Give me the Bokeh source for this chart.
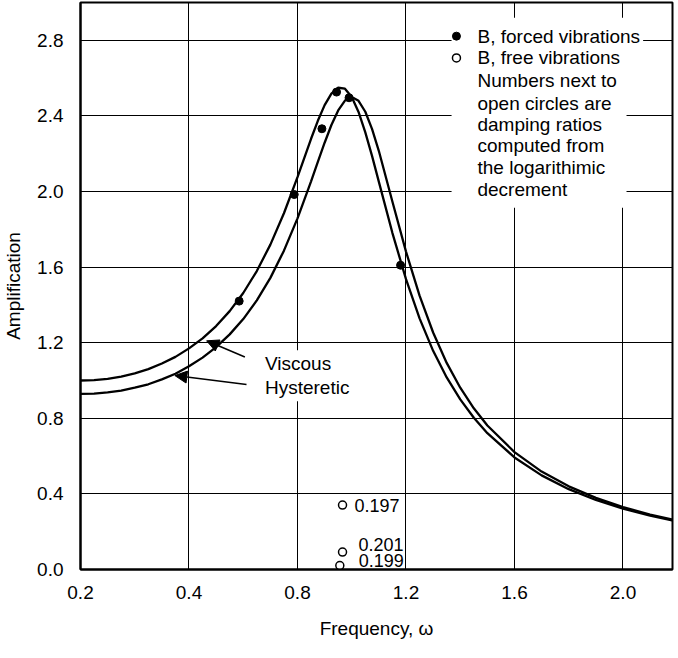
from bokeh.plotting import figure
from bokeh.models import FixedTicker, Label, Arrow, NormalHead, BoxAnnotation
from bokeh.embed import file_html
from bokeh.resources import INLINE

# ---------------- data ----------------
freq = [0.0, 0.05, 0.1, 0.15, 0.2, 0.25, 0.3, 0.35, 0.4, 0.45, 0.5, 0.55, 0.6, 0.65, 0.7,
        0.75, 0.8, 0.85, 0.875, 0.9, 0.925, 0.95, 0.975, 1.0, 1.025, 1.05, 1.075, 1.1,
        1.15, 1.2, 1.25, 1.3, 1.35, 1.4, 1.45, 1.5, 1.6, 1.7, 1.8, 1.9, 2.0, 2.1, 2.2]
viscous = [1.000, 1.002, 1.009, 1.021, 1.038, 1.060, 1.090, 1.125, 1.170, 1.223, 1.288,
           1.367, 1.463, 1.579, 1.719, 1.885, 2.076, 2.279, 2.374, 2.457, 2.518, 2.549,
           2.544, 2.500, 2.421, 2.313, 2.187, 2.051, 1.780, 1.536, 1.329, 1.157, 1.016,
           0.900, 0.803, 0.721, 0.593, 0.498, 0.425, 0.368, 0.322, 0.285, 0.254]
hysteretic = [0.929, 0.931, 0.937, 0.946, 0.962, 0.980, 1.006, 1.036, 1.075, 1.121, 1.177,
              1.244, 1.325, 1.424, 1.543, 1.687, 1.858, 2.054, 2.157, 2.258, 2.352, 2.429,
              2.481, 2.500, 2.480, 2.422, 2.330, 2.214, 1.946, 1.682, 1.449, 1.254, 1.093,
              0.962, 0.853, 0.762, 0.621, 0.518, 0.440, 0.379, 0.330, 0.291, 0.259]

forced_x = [0.585, 0.788, 0.890, 0.944, 0.990, 1.180]
forced_y = [1.420, 1.984, 2.332, 2.526, 2.496, 1.610]

free_x = [0.966, 0.966, 0.956]
free_y = [0.341, 0.092, 0.021]
free_ratio = ["0.197", "0.201", "0.199"]

x_ticks = [0.0, 0.4, 0.8, 1.2, 1.6, 2.0]
x_tick_labels = ["0.2", "0.4", "0.8", "1.2", "1.6", "2.0"]
y_ticks = [0.0, 0.4, 0.8, 1.2, 1.6, 2.0, 2.4, 2.8]
y_tick_labels = ["0.0", "0.4", "0.8", "1.2", "1.6", "2.0", "2.4", "2.8"]

legend_forced = "B, forced vibrations"
legend_free = "B, free vibrations"
note_lines = ["Numbers next to", "open circles are", "damping ratios",
              "computed from", "the logarithimic", "decrement"]

# ---------------- figure ----------------
FONT = "Liberation Sans"
p = figure(frame_width=592, frame_height=567, x_range=(0, 2.1825), y_range=(0, 3.0),
           output_backend="svg", toolbar_location=None,
           min_border_left=76, min_border_right=2, min_border_top=2, min_border_bottom=72)
p.background_fill_color = "white"
p.border_fill_color = "white"
p.outline_line_color = "black"
p.outline_line_width = 2

p.xaxis.ticker = FixedTicker(ticks=x_ticks)
p.yaxis.ticker = FixedTicker(ticks=y_ticks)
p.xaxis.major_label_overrides = dict(zip(x_ticks, x_tick_labels))
p.yaxis.major_label_overrides = dict(zip(y_ticks, y_tick_labels))
p.xgrid.ticker = FixedTicker(ticks=x_ticks)
p.ygrid.ticker = FixedTicker(ticks=y_ticks)
for g in (p.xgrid, p.ygrid):
    g.grid_line_color = "black"
    g.grid_line_width = 1
    g.grid_line_alpha = 1.0

for ax in (p.xaxis, p.yaxis):
    ax.axis_line_color = "black"
    ax.axis_line_width = 2
    ax.major_tick_out = 0
    ax.major_tick_in = 0
    ax.minor_tick_out = 0
    ax.minor_tick_in = 0
    ax.major_label_text_font = FONT
    ax.major_label_text_font_size = "19px"
    ax.major_label_text_color = "black"
    ax.axis_label_text_font = FONT
    ax.axis_label_text_font_size = "19px"
    ax.axis_label_text_font_style = "normal"
    ax.axis_label_text_color = "black"

p.xaxis.axis_label = "Frequency, \u03c9"
p.yaxis.axis_label = "Amplification"
p.xaxis.major_label_standoff = 16
p.xaxis.axis_label_standoff = 16
p.yaxis.major_label_standoff = 17
p.yaxis.axis_label_standoff = 10

# white-out region behind the note block (over the grid, under the glyphs)
p.add_layout(BoxAnnotation(left=1.368, right=2.013, top=2.919, bottom=1.914,
                           fill_color="white", fill_alpha=1.0, line_alpha=0,
                           level="underlay"))

# curves
p.line(freq, viscous, line_color="black", line_width=2.3)
p.line(freq, hysteretic, line_color="black", line_width=2.3)

# forced vibrations (filled) and free vibrations (open)
p.scatter(forced_x, forced_y, marker="circle", size=8, fill_color="black", line_color="black")
p.scatter(free_x, free_y, marker="circle", size=8, fill_color="white", line_color="black",
          line_width=1.5)

# damping ratio labels next to open circles
ratio_offsets = [(11, 0), (15, 8), (18, 5)]
for xv, yv, txt, (dx, dy) in zip(free_x, free_y, free_ratio, ratio_offsets):
    p.add_layout(Label(x=xv, y=yv, x_offset=dx, y_offset=dy, text=txt,
                       text_font=FONT, text_font_size="18px", text_color="black",
                       text_baseline="middle", text_align="left",
                       background_fill_color="white", padding=1))

# legend markers and texts (drawn bottom-up so no descender gets covered)
leg_x = 1.386
p.scatter([leg_x], [2.822], marker="circle", size=8, fill_color="black", line_color="black")
p.scatter([leg_x], [2.707], marker="circle", size=8, fill_color="white", line_color="black",
          line_width=1.5)
text_x = 1.4525
rows_y = [2.822, 2.707, 2.585, 2.463, 2.354, 2.241, 2.125, 2.008]
rows = list(zip([legend_forced, legend_free] + note_lines, rows_y))
for txt, yv in reversed(rows):
    p.add_layout(Label(x=text_x, y=yv, text=txt, text_font=FONT, text_font_size="19px",
                       text_color="black", text_baseline="middle", text_align="left",
                       background_fill_color="white", padding=3))

# curve annotations
p.add_layout(Label(x=0.669, y=0.962, text="Hysteretic", text_font=FONT, text_font_size="19px",
                   text_color="black", text_baseline="middle", text_align="left",
                   background_fill_color="white", padding=3))
p.add_layout(Label(x=0.669, y=1.088, text="Viscous", text_font=FONT, text_font_size="19px",
                   text_color="black", text_baseline="middle", text_align="left",
                   background_fill_color="white", padding=3))
p.add_layout(Arrow(x_start=0.606, y_start=1.124, x_end=0.465, y_end=1.21,
                   line_color="black", line_width=1.5,
                   end=NormalHead(size=12, fill_color="black", line_color="black")))
p.add_layout(Arrow(x_start=0.612, y_start=0.979, x_end=0.348, y_end=1.026,
                   line_color="black", line_width=1.5,
                   end=NormalHead(size=12, fill_color="black", line_color="black")))

open("out.html", "w").write(file_html(p, INLINE))
